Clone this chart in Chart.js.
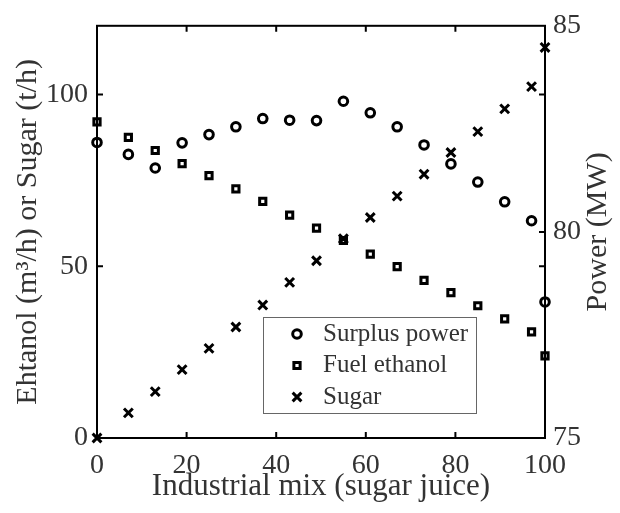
<!DOCTYPE html>
<html>
<head>
<meta charset="utf-8">
<script src="https://cdn.jsdelivr.net/npm/chart.js@4.4.1/dist/chart.umd.min.js"></script>
<style>
  html, body { margin: 0; padding: 0; background: #fff; }
  #wrap { width: 620px; height: 513px; }
</style>
</head>
<body>
<div id="wrap"><canvas id="chart" width="620" height="513"></canvas></div>
<script>
// industrial mix, % of cane going to sugar juice
const mix = [0, 7, 13, 19, 25, 31, 37, 43, 49, 55, 61, 67, 73, 79, 85, 91, 97, 100];
// surplus power (MW), right axis
const surplusPower = [82.17, 81.88, 81.55, 82.16, 82.36, 82.55, 82.75, 82.71, 82.70, 83.17, 82.89, 82.55, 82.11, 81.65, 81.21, 80.73, 80.27, 78.30];
// fuel ethanol (m3/h), left axis
const fuelEthanol = [92.0, 87.5, 83.7, 79.9, 76.4, 72.5, 68.9, 64.9, 61.1, 57.5, 53.5, 49.9, 45.9, 42.3, 38.5, 34.7, 30.9, 23.9];
// sugar (t/h), left axis
const sugar = [0, 7.3, 13.5, 19.9, 26.1, 32.3, 38.7, 45.3, 51.6, 58.0, 64.2, 70.4, 76.8, 83.1, 89.2, 95.8, 102.3, 113.7];

const xTicks = [0, 20, 40, 60, 80, 100];
const leftTicks = [0, 50, 100];
const rightTicks = [75, 80, 85];

const serif = "'Liberation Serif', 'Times New Roman', serif";
const textColor = '#333';

function pts(ys) {
  return mix.map((x, i) => ({ x: x, y: ys[i] }));
}

// box, inward ticks, right title and legend, matlab style
const framePlugin = {
  id: 'frame',
  beforeDatasetsDraw(chart) {
    const { ctx, chartArea: a, scales } = chart;
    ctx.save();
    ctx.strokeStyle = '#000';
    ctx.lineWidth = 2;
    ctx.strokeRect(a.left, a.top, a.right - a.left, a.bottom - a.top);
    const tl = 6;
    ctx.beginPath();
    xTicks.slice(1, -1).forEach(v => {
      const px = scales.x.getPixelForValue(v);
      ctx.moveTo(px, a.bottom); ctx.lineTo(px, a.bottom - tl);
      ctx.moveTo(px, a.top); ctx.lineTo(px, a.top + tl);
    });
    leftTicks.slice(1).forEach(v => {
      const py = scales.y.getPixelForValue(v);
      ctx.moveTo(a.left, py); ctx.lineTo(a.left + tl, py);
      ctx.moveTo(a.right, py); ctx.lineTo(a.right - tl, py);
    });
    rightTicks.slice(1, -1).forEach(v => {
      const py = scales.y2.getPixelForValue(v);
      ctx.moveTo(a.right, py); ctx.lineTo(a.right - tl, py);
    });
    ctx.stroke();

    // right axis title reads bottom-to-top like the left one
    ctx.translate(598, (a.top + a.bottom) / 2);
    ctx.rotate(-Math.PI / 2);
    ctx.font = '30px ' + serif;
    ctx.fillStyle = textColor;
    ctx.textAlign = 'center';
    ctx.textBaseline = 'middle';
    ctx.fillText('Power (MW)', 0, 0);
    ctx.restore();
  },
  afterDatasetsDraw(chart) {
    const { ctx } = chart;
    const box = { x: 263, y: 317, w: 213, h: 96 };
    ctx.save();
    ctx.fillStyle = '#fff';
    ctx.fillRect(box.x, box.y, box.w, box.h);
    ctx.strokeStyle = '#666';
    ctx.lineWidth = 1;
    ctx.strokeRect(box.x + 0.5, box.y + 0.5, box.w, box.h);
    ctx.font = '25px ' + serif;
    ctx.textBaseline = 'middle';
    ctx.fillStyle = textColor;
    chart.data.datasets.forEach((ds, i) => {
      const cy = box.y + 17 + i * 31.5;
      const cx = box.x + 34;
      ctx.lineWidth = ds.pointBorderWidth;
      ctx.strokeStyle = '#000';
      ctx.beginPath();
      const r = ds.pointRadius;
      if (ds.pointStyle === 'circle') {
        ctx.arc(cx, cy, r, 0, Math.PI * 2);
      } else if (ds.pointStyle === 'rect') {
        const s = Math.SQRT1_2 * r;
        ctx.rect(cx - s, cy - s, 2 * s, 2 * s);
      } else {
        const s = Math.SQRT1_2 * r;
        ctx.moveTo(cx - s, cy - s); ctx.lineTo(cx + s, cy + s);
        ctx.moveTo(cx - s, cy + s); ctx.lineTo(cx + s, cy - s);
      }
      ctx.stroke();
      ctx.fillText(ds.label, box.x + 60, cy);
    });
    ctx.restore();
  }
};

new Chart(document.getElementById('chart'), {
  type: 'scatter',
  data: {
    datasets: [
      { label: 'Surplus power', data: pts(surplusPower), yAxisID: 'y2',
        pointStyle: 'circle', pointRadius: 4.3, pointBorderWidth: 3,
        borderColor: '#000', backgroundColor: 'rgba(0,0,0,0)', clip: false },
      { label: 'Fuel ethanol', data: pts(fuelEthanol), yAxisID: 'y',
        pointStyle: 'rect', pointRadius: 4.4, pointBorderWidth: 3,
        borderColor: '#000', backgroundColor: 'rgba(0,0,0,0)', clip: false },
      { label: 'Sugar', data: pts(sugar), yAxisID: 'y',
        pointStyle: 'crossRot', pointRadius: 6.2, pointBorderWidth: 3,
        borderColor: '#000', backgroundColor: 'rgba(0,0,0,0)', clip: false }
    ]
  },
  options: {
    responsive: false,
    animation: false,
    layout: { padding: { top: 18, left: 0, right: 0, bottom: 0 } },
    plugins: { legend: { display: false }, tooltip: { enabled: false } },
    scales: {
      x: {
        type: 'linear', min: 0, max: 100,
        afterFit: s => { s.height = 75; },
        afterBuildTicks: s => { s.ticks = xTicks.map(v => ({ value: v })); },
        grid: { display: false, drawTicks: false },
        border: { display: false },
        ticks: { color: textColor, font: { family: serif, size: 28 }, padding: 11, maxRotation: 0 },
        title: { display: true, text: 'Industrial mix (sugar juice)', color: textColor,
                 font: { family: serif, size: 31 }, padding: { top: 0, bottom: 8 } }
      },
      y: {
        type: 'linear', position: 'left', min: 0, max: 120,
        afterFit: s => { s.width = 97; },
        afterBuildTicks: s => { s.ticks = leftTicks.map(v => ({ value: v })); },
        grid: { display: false, drawTicks: false },
        border: { display: false },
        ticks: { color: textColor, font: { family: serif, size: 28 }, padding: 9 },
        title: { display: true, text: 'Ehtanol (m³/h) or Sugar (t/h)', color: textColor,
                 font: { family: serif, size: 30 }, padding: { top: 10, bottom: 0 } }
      },
      y2: {
        type: 'linear', position: 'right', min: 75, max: 85,
        afterFit: s => { s.width = 75; },
        afterBuildTicks: s => { s.ticks = rightTicks.map(v => ({ value: v })); },
        grid: { display: false, drawTicks: false },
        border: { display: false },
        ticks: { color: textColor, font: { family: serif, size: 28 }, padding: 8 },
        title: { display: false }
      }
    }
  },
  plugins: [framePlugin]
});
</script>
</body>
</html>
